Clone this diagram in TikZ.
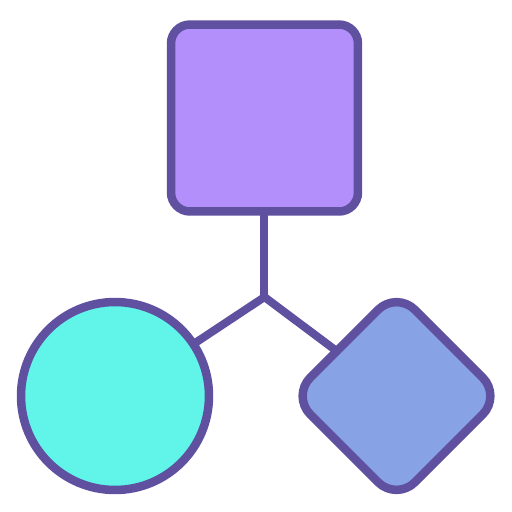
\documentclass[tikz,border=0pt]{standalone}
\usetikzlibrary{positioning}
\definecolor{edgepurple}{RGB}{96,80,160}
\definecolor{boxfill}{RGB}{179,143,252}
\definecolor{circfill}{RGB}{97,244,232}
\definecolor{diafill}{RGB}{135,163,230}
\begin{document}
\begin{tikzpicture}[x=0.02cm,y=-0.02cm,
  every node/.style={draw=edgepurple,line width=0.17cm,inner sep=0pt,outer sep=0pt},
  conn/.style={draw=edgepurple,line width=0.16cm}]
\useasboundingbox (0,0) rectangle (512,512);
\node [fill=boxfill,rectangle,rounded corners=0.38cm,minimum size=3.74cm] (Top) at (264.5,118) {};
\node [fill=circfill,circle,minimum size=3.76cm] (Left) at (115,396) {};
\node [fill=diafill,rectangle,rotate=45,rounded corners=0.52cm,minimum size=2.96cm] (Right) at (396.5,396) {};
\coordinate (Hub) at (264.5,297);
\draw [conn] (Top.south) -- (Hub);
\draw [conn,line join=round] (Left) -- (Hub) -- (Right);
\end{tikzpicture}
\end{document}
